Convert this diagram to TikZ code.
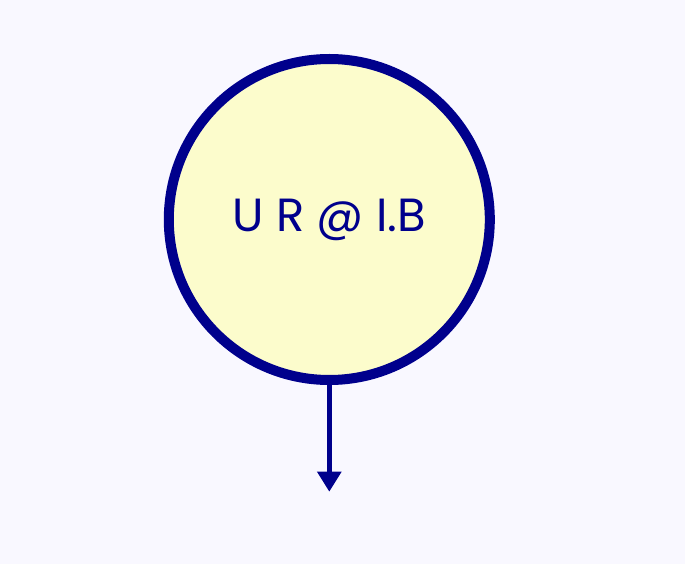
\documentclass[tikz,border=0pt]{standalone}
\usepackage{fontspec}
\setmainfont{Poppins}
\usetikzlibrary{arrows.meta}
\definecolor{bgpale}{RGB}{249,248,255}
\definecolor{ballfill}{RGB}{252,252,204}
\definecolor{navy}{RGB}{0,0,140}
\begin{document}
\begin{tikzpicture}[x=1pt,y=-1pt]
\tikzstyle{every node}+=[inner sep=0pt]
\tikzstyle{ball}=[circle, draw=navy, fill=ballfill, line width=10pt, minimum size=321pt, text=navy, font=\fontsize{46.5}{52}\selectfont]
\fill [bgpale] (0,0) rectangle (685,564);
\node [ball] (ub) at (329.3,219.5) {U R @ I.B};
\coordinate (tip) at (329.3,491.7);
\draw [navy, line width=4.5pt, -{Triangle[width=23.4pt,length=20pt]}] (ub.south) -- (tip);
\end{tikzpicture}
\end{document}
